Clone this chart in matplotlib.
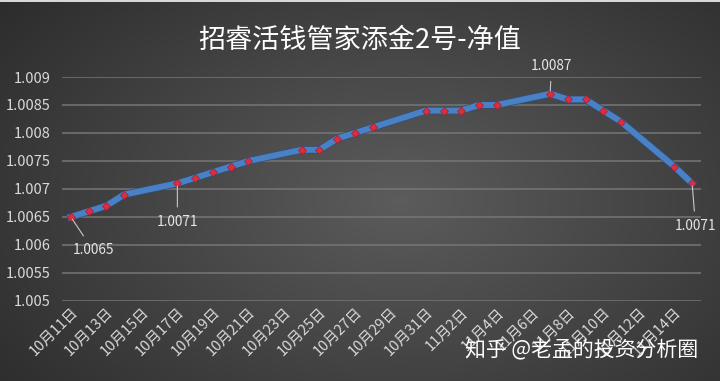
import numpy as np
import pandas as pd
import matplotlib
matplotlib.use("Agg")
import matplotlib.pyplot as plt
import matplotlib.dates as mdates
import matplotlib.patheffects as pe

plt.rcParams['font.family'] = ['Noto Sans CJK SC', 'DejaVu Sans']

# ---- data ----
dates = ["2022-10-11", "2022-10-12", "2022-10-13", "2022-10-14",
         "2022-10-17", "2022-10-18", "2022-10-19", "2022-10-20", "2022-10-21",
         "2022-10-24", "2022-10-25", "2022-10-26", "2022-10-27", "2022-10-28",
         "2022-10-31", "2022-11-01", "2022-11-02", "2022-11-03", "2022-11-04",
         "2022-11-07", "2022-11-08", "2022-11-09", "2022-11-10", "2022-11-11",
         "2022-11-14", "2022-11-15"]
nav = [1.0065, 1.0066, 1.0067, 1.0069,
       1.0071, 1.0072, 1.0073, 1.0074, 1.0075,
       1.0077, 1.0077, 1.0079, 1.0080, 1.0081,
       1.0084, 1.0084, 1.0084, 1.0085, 1.0085,
       1.0087, 1.0086, 1.0086, 1.0084, 1.0082,
       1.0074, 1.0071]
tick_dates = ["2022-10-11", "2022-10-13", "2022-10-15", "2022-10-17", "2022-10-19",
              "2022-10-21", "2022-10-23", "2022-10-25", "2022-10-27", "2022-10-29",
              "2022-10-31", "2022-11-02", "2022-11-04", "2022-11-06", "2022-11-08",
              "2022-11-10", "2022-11-12", "2022-11-14"]
tick_labels = ["10月11日", "10月13日", "10月15日", "10月17日", "10月19日",
               "10月21日", "10月23日", "10月25日", "10月27日", "10月29日",
               "10月31日", "11月2日", "11月4日", "11月6日", "11月8日",
               "11月10日", "11月12日", "11月14日"]
y_ticks = [1.005, 1.0055, 1.006, 1.0065, 1.007, 1.0075, 1.008, 1.0085, 1.009]
y_tick_labels = ["1.005", "1.0055", "1.006", "1.0065", "1.007",
                 "1.0075", "1.008", "1.0085", "1.009"]
labeled_idx = [0, 4, 19, 25]
title = "招睿活钱管家添金2号-净值"
watermark = "知乎 @老孟的投资分析圈"

x = mdates.date2num(pd.to_datetime(dates))
xt = mdates.date2num(pd.to_datetime(tick_dates))

fig = plt.figure(figsize=(7.2, 3.81), dpi=100)

# background radial gradient
bg = fig.add_axes([0, 0, 1, 1], zorder=-10)
gy, gx = np.mgrid[0:381, 0:720]
r = np.sqrt(((gx - 400) / 520.0) ** 2 + ((gy - 200) / 330.0) ** 2)
r = np.clip(r, 0, 1)
c_in = np.array([0.36, 0.36, 0.36])
c_out = np.array([0.17, 0.17, 0.17])
img = c_in[None, None, :] * (1 - r[..., None]) + c_out[None, None, :] * r[..., None]
img[0:2, :, :] = 0.85
bg.imshow(img, aspect='auto', extent=[0, 1, 0, 1], interpolation='bilinear')
bg.axis('off')

ax = fig.add_axes([0.0861, 0.2100, 0.8875, 0.5879])
ax.set_facecolor('none')
for s in ax.spines.values():
    s.set_visible(False)

ax.plot(x, nav, color='#4a80c4', lw=4.3, solid_joinstyle='round', zorder=3,
        path_effects=[pe.Stroke(linewidth=5.3, foreground='#2e4f7a'), pe.Normal()])
ax.plot(x, nav, ls='none', marker='D', ms=4.2, mfc='#d8303f', mec='#a81c30',
        mew=0.5, zorder=4)

ax.set_ylim(1.005, 1.009)
ax.set_yticks(y_ticks)
ax.set_yticklabels(y_tick_labels)
ax.set_xlim(x[0] - 0.5, x[-1] + 0.5)
ax.set_xticks(xt)
ax.set_xticklabels(tick_labels, rotation=45, ha='right', va='top',
                   rotation_mode='anchor')
ax.tick_params(axis='both', length=0, colors='#d9d9d9', labelsize=10.5)
ax.tick_params(axis='x', pad=3)
ax.tick_params(axis='y', pad=8)
ax.grid(axis='y', color='#767676', lw=1.1)
ax.set_axisbelow(True)

offsets = {0: (16, -24), 4: (0, -28), 19: (1, 20), 25: (2.5, -31)}
for i in labeled_idx:
    ax.annotate(f"{nav[i]:.4f}", xy=(x[i], nav[i]), xytext=offsets[i],
                textcoords='offset points', ha='center', va='center',
                color='#e6e6e6', fontsize=9.8, zorder=5,
                arrowprops=dict(arrowstyle='-', color='#c8c8c8', lw=0.8,
                                shrinkA=4, shrinkB=2))

fig.text(0.5, 0.895, title, ha='center', va='center', color='white',
         fontsize=19.5)
fig.text(0.969, 0.081, watermark, ha='right', va='center', color='white',
         fontsize=15)

fig.savefig('out.png', dpi=100)
